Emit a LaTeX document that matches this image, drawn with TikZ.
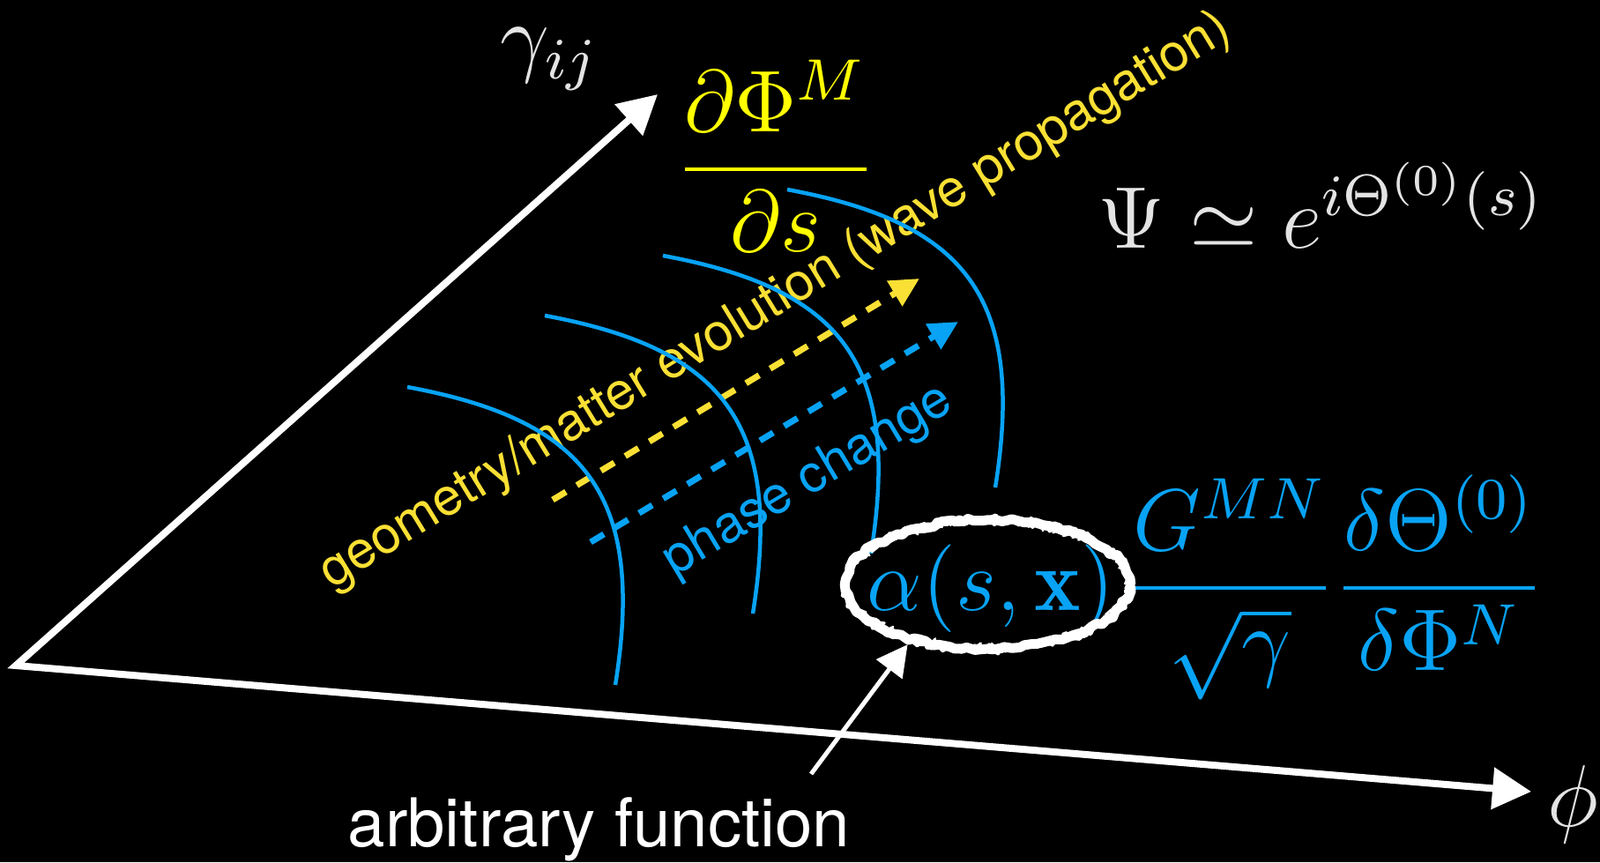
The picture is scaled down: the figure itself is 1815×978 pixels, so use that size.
\documentclass[tikz,border=0pt]{standalone}
\usepackage{amsmath}
\usepackage{fontspec}
\newfontfamily\helv{TeX Gyre Heros}
\usetikzlibrary{arrows.meta,shapes.geometric,decorations.pathmorphing}
\definecolor{chalk}{RGB}{228,228,228}
\definecolor{wave}{RGB}{8,163,245}
\definecolor{gold}{RGB}{250,224,52}
\definecolor{lemon}{RGB}{255,255,0}
\begin{document}
\begin{tikzpicture}[
		x=0.1mm, y=-0.1mm, line join=round,
		axis/.style={white, line width=0.8mm, line join=miter,
			{Triangle[length=4.4mm,width=4.6mm]}-{Triangle[length=4.4mm,width=4.6mm]}},
		front/.style={wave, line width=0.45mm},
		flow/.style={line width=0.7mm, dash pattern=on 1.75mm off 1.45mm,
			-{Triangle[length=3.3mm,width=3.2mm]}},
		eq/.style={inner sep=0pt, font=\fontsize{12}{14}\selectfont, scale=2.36},
		tag/.style={inner sep=0pt, font=\helv\fontsize{16.8}{20}\selectfont},
		ring/.style={ellipse, inner sep=0pt, minimum width=33.6mm, minimum height=16mm}
		]
		\useasboundingbox (0,0) rectangle (1815,978);
		\fill[black] (0,0) rectangle (1815,978);
		\coordinate (O) at (18,755);
		\coordinate (gtip) at (746,107);
		\coordinate (ptip) at (1737,898);
		\node[tag, gold, rotate=31.5] (evo) at (880,342) {geometry/matter evolution (wave propagation)};
		\node[tag, wave, rotate=31] (phase) at (917,546) {phase change};
		\coordinate (evo0) at (627,567);
		\coordinate (evo1) at (1043,316);
		\coordinate (ph0) at (670,615);
		\coordinate (ph1) at (1087,365);
		\draw[flow, gold] (evo0) -- (evo1);
		\draw[flow, wave] (ph0) -- (ph1);
		\foreach \dx/\dy in {0/0, 156/-81, 290/-149, 431/-224}
			\draw[front, shift={(\dx,\dy)}] (462,439) .. controls (662,476) and (733,559) .. (698,777);
		\draw[axis] (gtip) -- (O) -- (ptip);
		\node[eq, chalk, anchor=base west] (gam) at (566,75) {$\gamma_{ij}$};
		\node[eq, chalk] (phi) at (1784,913) {$\phi$};
		\node[eq, lemon, anchor=base west] (dphi) at (765,217) {$\dfrac{\partial\Phi^M}{\partial s}$};
		\node[eq, chalk, anchor=base west] (psi) at (1244,281) {$\Psi\simeq e^{i\Theta^{(0)}(s)}$};
		\node[eq, wave, anchor=base west] (alpha) at (982,692) {$\alpha(s,\mathbf{x})$};
		\node[eq, wave, anchor=base west] (coef) at (1274,692) {$\dfrac{G^{MN}}{\sqrt{\gamma}}\dfrac{\delta\Theta^{(0)}}{\delta\Phi^N}$};
		\node[ring] (loop) at (1120,663) {};
		\draw[white, line width=1.1mm, decorate, decoration={random steps, segment length=2pt, amplitude=0.7pt}]
			(loop.center) ellipse [x radius=16.1mm, y radius=7.3mm];
		\draw[white, line width=0.5mm, decorate, decoration={random steps, segment length=1.2pt, amplitude=1.3pt}]
			(loop.center) ellipse [x radius=16.2mm, y radius=7.4mm];
		\draw[white, line width=0.25mm, decorate, decoration={random steps, segment length=0.8pt, amplitude=1.6pt}]
			(loop.center) ellipse [x radius=16.0mm, y radius=7.2mm];
		\node[anchor=base west, inner sep=0pt, white, font=\helv\fontsize{21.7}{26}\selectfont] (func) at (394,960) {arbitrary function};
		\coordinate (tail) at (920,878);
		\draw[white, line width=0.5mm, -{Triangle[length=3.5mm,width=3.6mm]}] (tail) -- (loop.217);
\end{tikzpicture}
\end{document}
